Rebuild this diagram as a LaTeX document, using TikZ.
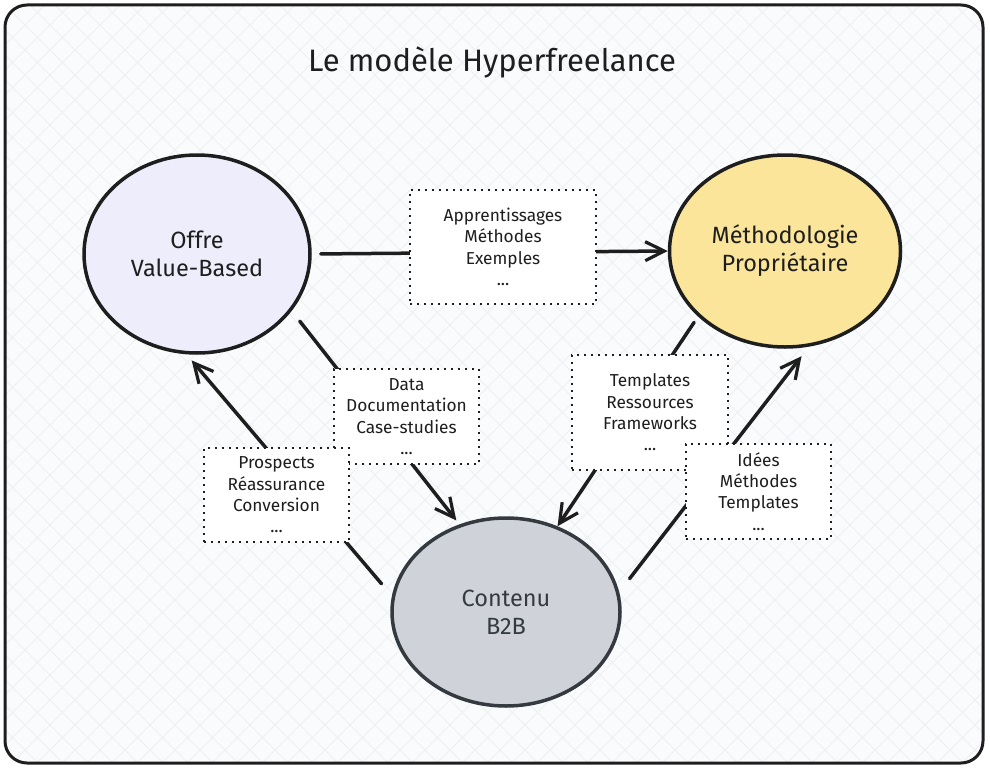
\documentclass[tikz,border=0pt]{standalone}
\usepackage{fontspec}
\setmainfont{Fira Sans}
\usetikzlibrary{arrows.meta,shapes.geometric}
\definecolor{bg}{HTML}{FAFBFC}
\definecolor{gridc}{HTML}{EDEFF2}
\definecolor{offrefill}{HTML}{EEEDFB}
\definecolor{methfill}{HTML}{FBE59A}
\definecolor{contfill}{HTML}{CFD3D9}
\definecolor{contline}{HTML}{343A40}
\definecolor{ink}{HTML}{1E1E1E}
\begin{document}
\begin{tikzpicture}[x=1pt,y=-1pt,
  hub/.style={ellipse, draw=ink, line width=3.5pt, align=center, inner sep=0pt,
    font=\fontsize{23.5}{28}\selectfont, text=ink},
  label box/.style={rectangle, draw=ink, fill=white, line width=2pt,
    dash pattern=on 2pt off 5pt, align=center, inner sep=0pt,
    font=\fontsize{17.3}{21.3}\selectfont, text=ink},
  link/.style={draw=ink, line width=3.5pt, line cap=round,
    -{Straight Barb[length=19pt,width=19pt,line width=3.2pt]}},
  twin/.style={draw=ink, line width=4pt, double=white, double distance=1.2pt},
]
\useasboundingbox (0,0) rectangle (990,776);
% background and frame
\fill[bg, rounded corners=22pt] (5,5) rectangle (983,763);
\begin{scope}
  \clip[rounded corners=22pt] (5,5) rectangle (983,763);
  \foreach \i in {-800,-775,...,1000} {
    \draw[gridc, line width=0.8pt] (\i,0) -- ++(800,800);
    \draw[gridc, line width=0.8pt] (\i+800,0) -- ++(-800,800);
  }
\end{scope}
\draw[ink, line width=3pt, rounded corners=22pt] (5,5) rectangle (983,763);

% title
\node[font=\fontsize{31}{36}\selectfont, text=ink] (title) at (492,62) {Le modèle Hyperfreelance};

% hubs
\node[hub, fill=offrefill, minimum width=226pt, minimum height=198pt] (offre) at (197,254) {Offre\\Value-Based};
\node[hub, fill=methfill, minimum width=231pt, minimum height=192pt] (meth) at (785,251) {Méthodologie\\Propriétaire};
\node[hub, fill=contfill, draw=contline, text=contline, minimum width=228pt, minimum height=188pt] (cont) at (506,612) {Contenu\\B2B};

% connectors
\draw[link, shorten <=9pt] (offre.east) -- (meth.west);
\draw[link, shorten <=13pt, shorten >=5pt] (offre.-31) -- (cont.118);
\draw[link, shorten <=16pt, shorten >=8pt] (cont.172) -- (offre.-96);
\draw[link, shorten <=7pt] (meth.-143) -- (cont.59);
\draw[link, shorten <=17pt, shorten >=12pt] (cont.10) -- (meth.-76);

% label boxes
\node[label box, minimum width=186pt, minimum height=114pt] (lapp) at (503,247) {Apprentissages\\Méthodes\\Exemples\\...};
\node[label box, minimum width=145pt, minimum height=95pt] (ldata) at (406.5,416.5) {Data\\Documentation\\Case-studies\\...};
\node[label box, minimum width=145pt, minimum height=94pt] (lpros) at (276.5,495) {Prospects\\Réassurance\\Conversion\\...};
\node[label box, minimum width=156pt, minimum height=115pt] (ltemp) at (650,412.5) {Templates\\Ressources\\Frameworks\\...};
\node[label box, minimum width=145pt, minimum height=95pt] (lidee) at (758.5,491.5) {Idées\\Méthodes\\Templates\\...};
\end{tikzpicture}
\end{document}
